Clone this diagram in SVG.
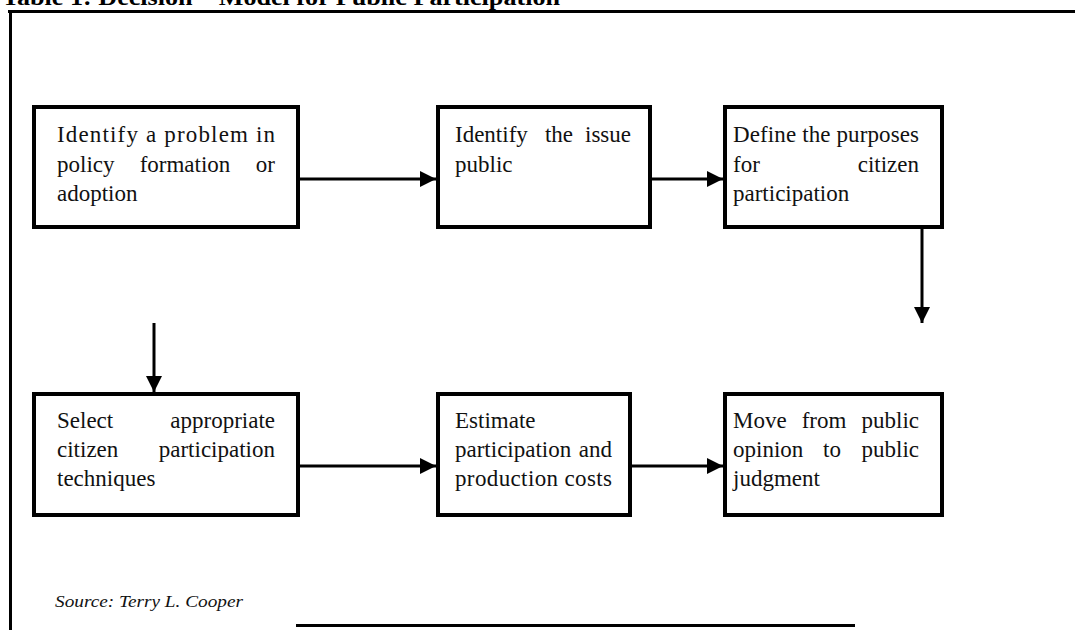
<svg xmlns="http://www.w3.org/2000/svg" width="1075" height="630" viewBox="0 0 1075 630">
<style>
.box{fill:#fff;stroke:#000;stroke-width:4}
.t{font-family:"Liberation Serif","Times New Roman",serif;font-size:23px;fill:#111}
.e{text-anchor:end}
.m{text-anchor:middle}
.con{stroke:#000;stroke-width:3;fill:none}
.frame{stroke:#000;stroke-width:3;fill:none}
</style>
<defs>
<marker id="ah" viewBox="0 0 16 16" refX="16" refY="8" markerWidth="16" markerHeight="16" markerUnits="userSpaceOnUse" orient="auto">
<path d="M0,0 L16,8 L0,16 Z" fill="#000"/>
</marker>
</defs>
<rect width="1075" height="630" fill="#fff"/>
<text x="2" y="5" font-family="'Liberation Serif','Times New Roman',serif" font-weight="bold" font-size="24" textLength="558" lengthAdjust="spacingAndGlyphs" fill="#000">Table 1: Decision – Model for Public Participation</text>
<path class="frame" d="M8,11.5 H1075 M10.5,10 V630"/>
<g id="connectors">
<line class="con" x1="300" y1="179" x2="436" y2="179" marker-end="url(#ah)"/>
<line class="con" x1="652" y1="179" x2="723" y2="179" marker-end="url(#ah)"/>
<line class="con" x1="922" y1="229" x2="922" y2="323" marker-end="url(#ah)"/>
<line class="con" x1="154" y1="323" x2="154" y2="392" marker-end="url(#ah)"/>
<line class="con" x1="300" y1="466" x2="436" y2="466" marker-end="url(#ah)"/>
<line class="con" x1="632" y1="466" x2="723" y2="466" marker-end="url(#ah)"/>
</g>
<g id="n1">
<rect class="box" x="34" y="107" width="264" height="120"/>
<text class="t" x="57" y="142" textLength="218" lengthAdjust="spacing">Identify a problem in</text>
<text class="t" x="57" y="172">policy</text>
<text class="t m" x="185" y="172">formation</text>
<text class="t e" x="275" y="172">or</text>
<text class="t" x="57" y="201">adoption</text>
</g>
<g id="n2">
<rect class="box" x="438" y="107" width="212" height="120"/>
<text class="t" x="455" y="142">Identify</text>
<text class="t m" x="559" y="142">the</text>
<text class="t e" x="631" y="142">issue</text>
<text class="t" x="455" y="172">public</text>
</g>
<g id="n3">
<rect class="box" x="725" y="107" width="217" height="120"/>
<text class="t" x="733" y="142" textLength="186" lengthAdjust="spacing">Define the purposes</text>
<text class="t" x="733" y="172">for</text>
<text class="t e" x="919" y="172">citizen</text>
<text class="t" x="733" y="201">participation</text>
</g>
<g id="n4">
<rect class="box" x="34" y="394" width="264" height="121"/>
<text class="t" x="57" y="428">Select</text>
<text class="t e" x="275" y="428">appropriate</text>
<text class="t" x="57" y="457">citizen</text>
<text class="t e" x="275" y="457">participation</text>
<text class="t" x="57" y="486">techniques</text>
</g>
<g id="n5">
<rect class="box" x="438" y="394" width="192" height="121"/>
<text class="t" x="455" y="428">Estimate</text>
<text class="t" x="455" y="457">participation</text>
<text class="t e" x="612" y="457">and</text>
<text class="t" x="455" y="486" textLength="157" lengthAdjust="spacing">production costs</text>
</g>
<g id="n6">
<rect class="box" x="725" y="394" width="217" height="121"/>
<text class="t" x="733" y="428">Move</text>
<text class="t m" x="824" y="428">from</text>
<text class="t e" x="919" y="428">public</text>
<text class="t" x="733" y="457">opinion</text>
<text class="t m" x="832" y="457">to</text>
<text class="t e" x="919" y="457">public</text>
<text class="t" x="733" y="486">judgment</text>
</g>
<text x="55" y="607" font-family="'Liberation Serif','Times New Roman',serif" font-style="italic" font-size="17" textLength="188" lengthAdjust="spacingAndGlyphs" fill="#111">Source: Terry L. Cooper</text>
<line x1="296" y1="625.5" x2="855" y2="625.5" stroke="#000" stroke-width="3"/>
</svg>
